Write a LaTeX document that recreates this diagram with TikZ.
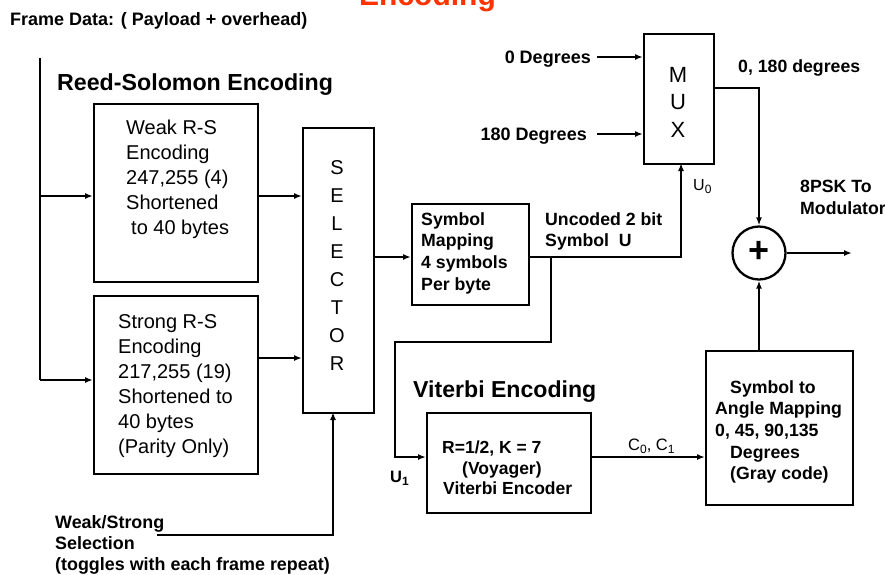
\documentclass[tikz,border=0pt]{standalone}
\usepackage{fontspec}
\setmainfont{Liberation Sans}
\usetikzlibrary{arrows.meta,calc}
\definecolor{titlered}{RGB}{255,51,0}
\newcommand{\fs}[2]{\fontsize{#1}{#2}\selectfont}
\newcommand{\sub}[1]{\raisebox{-3.5pt}{\fs{12}{12}#1}}
\begin{document}
\begin{tikzpicture}[x=1pt,y=-1pt,
  box/.style={draw, line width=2.3pt, inner sep=0, anchor=north west},
  conn/.style={line width=2.1pt},
  arr/.style={conn, -{Latex[length=8pt,width=6pt]}},
  txt/.style={inner sep=0, anchor=north west, align=left},
  lbl/.style={inner sep=0, anchor=base west},
  boxtxt/.style={txt, font=\fs{20}{25}},
  btxt/.style={txt, font=\bfseries\fs{17.7}{21.7}}]
\clip (0,0) rectangle (885,574);
\fill[white] (0,0) rectangle (885,574);

% title
\node[lbl, text=titlered, font=\bfseries\fs{30}{36}] (title) at (359,5) {Encoding};
\node[lbl, font=\bfseries\fs{18}{21}] (frame) at (10,25) {Frame Data: ( Payload + overhead)};
\node[lbl, font=\bfseries\fs{23.2}{26}] (rslab) at (57,90) {Reed-Solomon Encoding};
\node[lbl, font=\bfseries\fs{23.1}{26}] (vitlab) at (413,397) {Viterbi Encoding};

% boxes
\node[box, minimum width=164, minimum height=178] (weak) at (93,103) {};
\node[box, minimum width=164, minimum height=178] (strong) at (93,295) {};
\node[box, minimum width=71, minimum height=285] (sel) at (302,127) {};
\node[box, minimum width=117, minimum height=101] (sym) at (411,203) {};
\node[box, minimum width=70, minimum height=130] (mux) at (643,33) {};
\node[box, minimum width=164, minimum height=100] (vit) at (426,412) {};
\node[box, minimum width=147, minimum height=154] (ang) at (705,350) {};
\node[draw, circle, line width=2.3pt, minimum size=53, inner sep=0] (circ) at (759,253) {};
\node[font=\bfseries\fs{36}{36}, inner sep=0] (plus) at (759,252) {+};

% box texts
\node[boxtxt] (weakt) at (126,120) {Weak R-S\\Encoding\\247,255 (4)\\Shortened\\\hspace*{5pt}to 40 bytes};
\node[boxtxt] (strongt) at (118,314) {Strong R-S\\Encoding\\217,255 (19)\\Shortened to\\40 bytes\\(Parity Only)};
\node[inner sep=0, anchor=north, align=center, font=\fs{20}{27.9}] (selt) at (337,160.7) {S\\E\\L\\E\\C\\T\\O\\R};
\node[inner sep=0, anchor=north, align=center, font=\fs{22}{27.5}] (muxt) at (678,67) {M\\U\\X};
\node[btxt] (symt) at (421,212) {Symbol\\Mapping\\4 symbols\\Per byte};
\node[btxt] (uncod) at (545,212) {Uncoded 2 bit\\Symbol~ U};
\node[btxt, font=\bfseries\fs{17.5}{20.5}] (vitt) at (442,441) {R=1/2, K = 7\\\hspace*{20pt}(Voyager)\\\hspace*{1pt}Viterbi Encoder};
\node[btxt] (angt) at (715,380) {\hspace*{15pt}Symbol to\\Angle Mapping\\0, 45, 90,135\\\hspace*{15pt}Degrees\\\hspace*{15pt}(Gray code)};

% labels
\node[inner sep=0, anchor=base east, font=\bfseries\fs{18}{21}] (l0) at (591,63) {0 Degrees};
\node[inner sep=0, anchor=base east, font=\bfseries\fs{18}{21}] (l180) at (587,140) {180 Degrees};
\node[lbl, font=\bfseries\fs{17.7}{21}] (l0180) at (738,72) {0, 180 degrees};
\node[txt, font=\bfseries\fs{17.7}{22.5}] (psk) at (800,179.5) {8PSK To\\Modulator};
\node[lbl, font=\fs{16}{18}] (u0) at (693,190) {U\sub{0}};
\node[lbl, font=\bfseries\fs{16.5}{18}] (u1) at (390,482) {U\sub{1}};
\node[lbl, font=\fs{16.5}{18}] (c01) at (628,450) {C\sub{0}, C\sub{1}};
\node[txt, font=\bfseries\fs{17.9}{21}] (ws) at (55,515.5) {Weak/Strong\\Selection\\(toggles with each frame repeat)};

% helper coordinates
\coordinate (ftop) at (40,58);
\coordinate (fin1) at (40,196);
\coordinate (fin2) at (40,380);
\coordinate (s2) at (280,358);
\coordinate (yA) at (380,257);
\coordinate (br) at (551,257);
\coordinate (k1) at (551,342);
\coordinate (k2) at (395,342);
\coordinate (k3) at (395,457);
\coordinate (yC) at (730,88);
\coordinate (d0) at (597,57);
\coordinate (d180) at (597,134);
\coordinate (wsl) at (157,535);
\coordinate (selin) at (333,412);
\coordinate (muxin) at (681,163);
\coordinate (outp) at (852,253);

% connectors
\draw[conn] (ftop) -- (fin2);
\draw[arr] (fin1) -- (fin1 -| weak.west);
\draw[arr] (fin2) -- (fin2 -| strong.west);
\draw[arr] (weak.east |- fin1) -- (sel.west |- fin1);
\draw[arr] (strong.east |- s2) -- (sel.west |- s2);
\draw[arr] (wsl) -| (selin);
\draw[arr] (sel.east |- yA) -- (sym.west |- yA);
\draw[arr] (sym.east |- yA) -| (muxin);
\draw[arr] (br) -- (k1) -- (k2) -- (k3) -- (k3 -| vit.west);
\draw[arr] (vit.east |- k3) -- (ang.west |- k3);
\draw[arr] (circ.south |- ang.north) -- (circ.south);
\draw[arr] (mux.east |- yC) -| (circ.north);
\draw[arr] (circ.east) -- (outp);
\draw[arr] (d0) -- (d0 -| mux.west);
\draw[arr] (d180) -- (d180 -| mux.west);
\end{tikzpicture}
\end{document}
